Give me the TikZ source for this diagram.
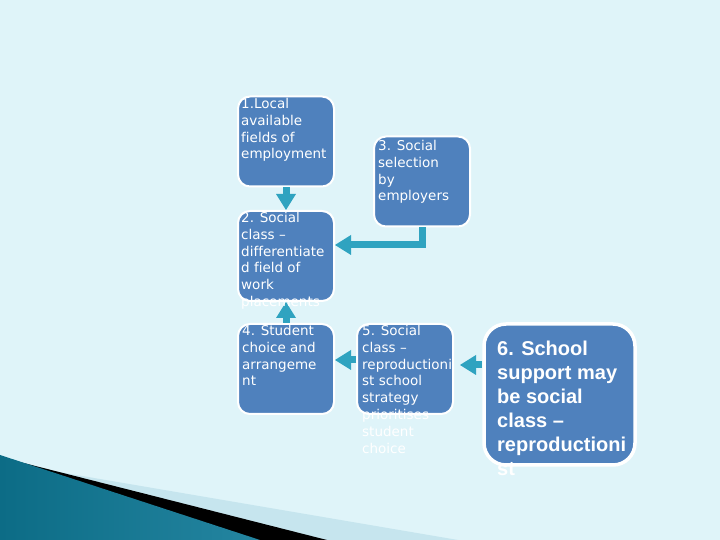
\documentclass[tikz,border=0pt]{standalone}
\usepackage{fontspec}
\setmainfont{DejaVu Sans}[Ligatures=CommonOff]
\newfontfamily\bigfont{Liberation Sans}
\usetikzlibrary{arrows.meta}
\definecolor{slide}{HTML}{DFF4F9}
\definecolor{boxblue}{HTML}{4F81BD}
\definecolor{arrteal}{HTML}{2FA3C0}
\definecolor{bandblue}{HTML}{C6E5EE}
\definecolor{darkteal}{HTML}{0C6C86}
\definecolor{midteal}{HTML}{5CC0DE}
\def\gap{9}

\begin{document}
\begin{tikzpicture}[x=1pt,y=1pt,
    box/.style={draw=white,line width=2pt,fill=boxblue,rounded corners=12pt,
      minimum width=96pt,minimum height=90pt,inner sep=0pt},
    txt/.style={anchor=north west,inner sep=0pt,align=left,text=white,
      font=\fontsize{13.5}{16.8}\selectfont},
    conn/.style={arrteal,line width=7pt,
      -{Triangle[length=16pt,width=20pt,line width=0pt]}}]
      \useasboundingbox (0,0) rectangle (720,540);
      % slide background and corner swoosh
      \fill[slide] (0,0) rectangle (720,540);
      \fill[bandblue] (0,78) -- (458,0) -- (0,0) -- cycle;
      \fill[black] (0,83) -- (327,0) -- (0,0) -- cycle;
      \shade[left color=darkteal,middle color=midteal,right color=darkteal!70!midteal]
        (0,85) -- (260,0) -- (0,0) -- cycle;
      % boxes
      \node[box] (b1) at (286,398.5) {};
      \node[box] (b3) at (422,358.5) {};
      \node[box] (b2) at (286,284) {};
      \node[box] (b4) at (286,171) {};
      \node[box] (b5) at (405,171) {};
      \node[box,line width=3.5pt,rounded corners=22pt,minimum width=151pt,
        minimum height=141pt] (b6) at (559.5,145.5) {};
      % arrows
      \draw[conn] (b1) -- (b2);
      \draw[conn] (b4) -- (b2);
      \draw[conn] (b3.south) |- ([yshift=11pt]b2.east);
      \draw[conn] ([yshift=\gap pt]b5.west) -- ([yshift=\gap pt]b4.east);
      \coordinate (h6) at (482,175);
      \draw[conn,shorten >=6pt] (h6) -- (h6 -| b5.east);
      % texts
      \node[txt] (t1) at (241,442) {1.Local\\available\\fields of\\employment};
      \node[txt] (t3) at (378,400) {3. Social\\selection\\by\\employers};
      \node[txt] (t2) at (241,328) {2. Social\\class –\\differentiate\\d field of\\work\\placements};
      \node[txt] (t4) at (242,215) {4. Student\\choice and\\arrangeme\\nt};
      \node[txt] (t5) at (362,215) {5. Social\\class –\\reproductioni\\st school\\strategy\\prioritises\\student\\choice};
      \node[txt,font=\bigfont\bfseries\fontsize{20}{24}\selectfont] (t6) at (497,199)
        {6. School\\support may\\be social\\class –\\reproductioni\\st};
    \end{tikzpicture}
\end{document}
